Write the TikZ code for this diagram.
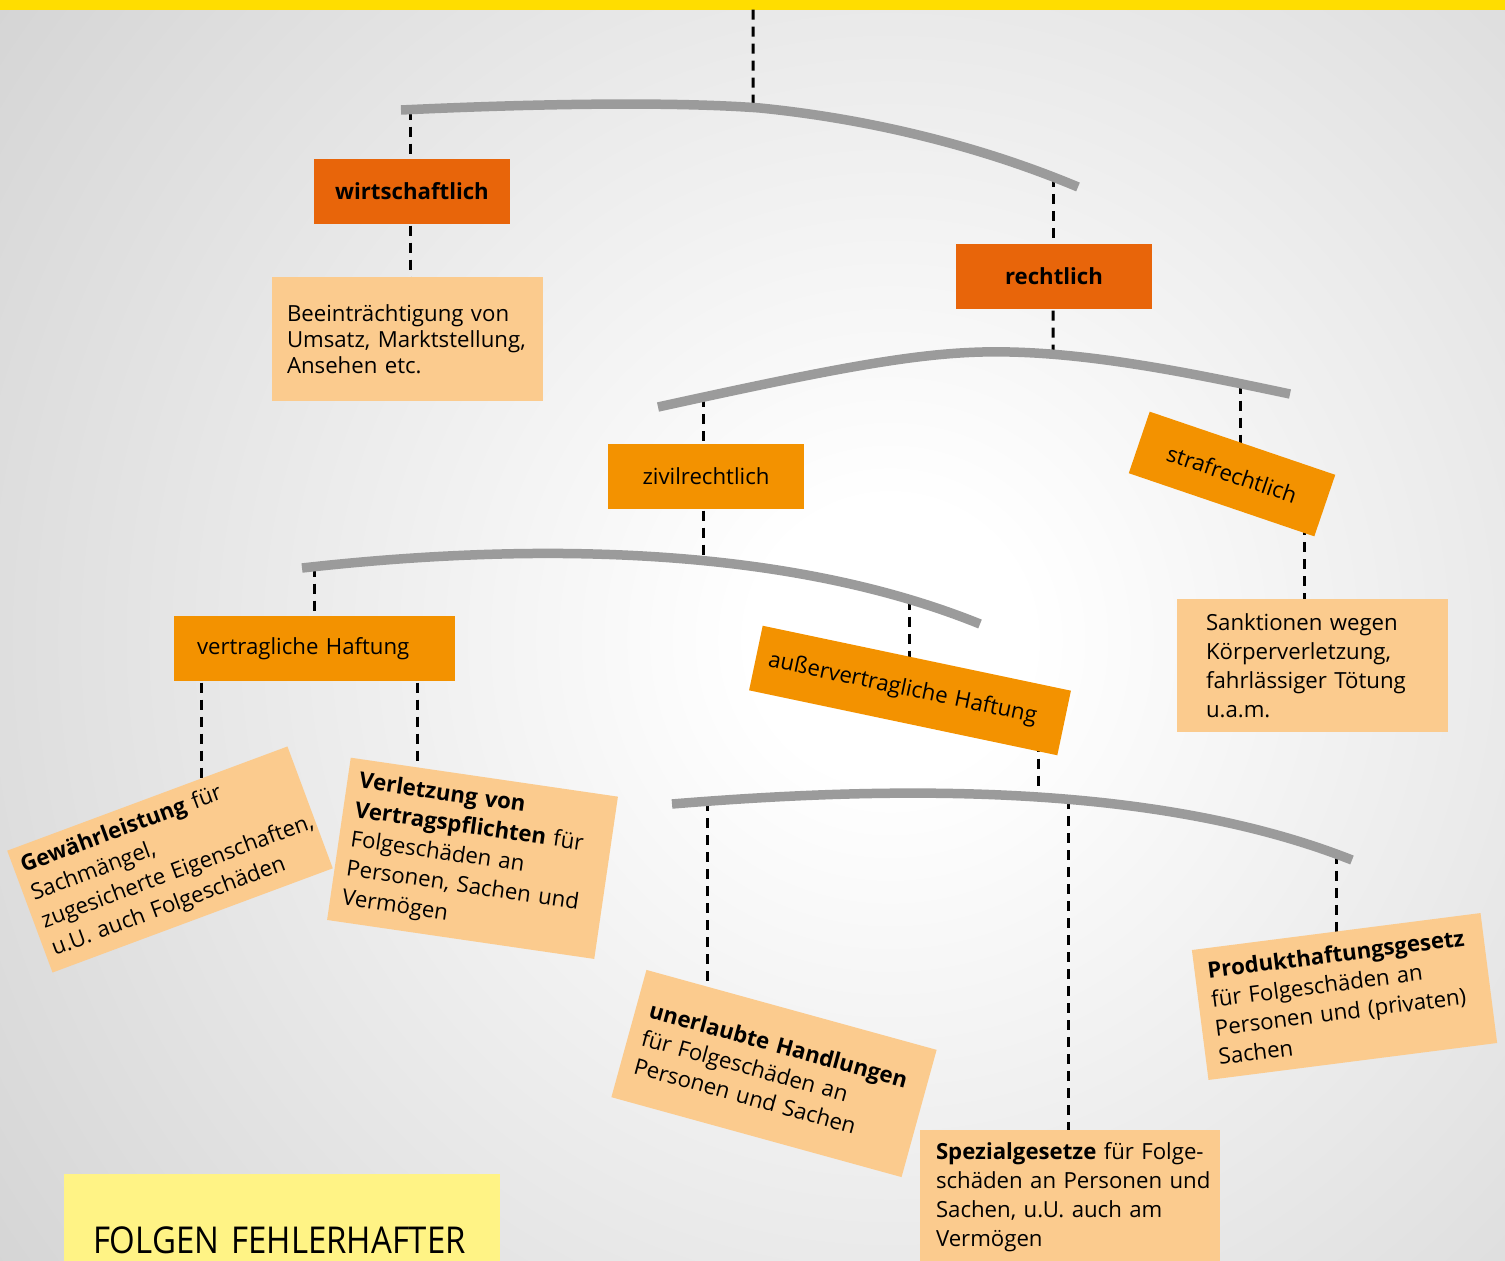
\documentclass[tikz,border=0pt]{standalone}
\usepackage{fontspec}
\setmainfont{Open Sans}
\newfontfamily\titlefont[FakeStretch=0.89]{Open Sans}
\usetikzlibrary{intersections}
\definecolor{topyellow}{HTML}{FFDD00}
\definecolor{darkor}{HTML}{E8650A}
\definecolor{midor}{HTML}{F39200}
\definecolor{lightor}{HTML}{FBCB8E}
\definecolor{titleyel}{HTML}{FFF385}
\definecolor{bargray}{HTML}{9B9B9B}
\definecolor{bggray}{HTML}{A0A0A0}
\pgfdeclarelayer{bglayer}
\pgfdeclarelayer{linelayer}
\pgfsetlayers{bglayer,linelayer,main}
\pgfdeclareradialshading{bgshade}{\pgfpoint{0bp}{0bp}}{color(0bp)=(white); color(3bp)=(white); color(50bp)=(bggray)}
\tikzset{
  hang/.style={draw=black, line width=3pt, dash pattern=on 10pt off 7pt},
  barline/.style={draw=bargray, line width=9.5pt},
  boxbase/.style={inner sep=0pt, outer sep=0pt},
  keybox/.style={boxbase, fill=darkor, minimum width=196pt, minimum height=65pt, font=\fontsize{22.2}{26}\selectfont\bfseries},
  midbox/.style={boxbase, fill=midor, minimum height=65pt, font=\fontsize{22.2}{26}\selectfont},
  notebox/.style={boxbase, fill=lightor, align=left, font=\fontsize{22.2}{26}\selectfont},
  widenote/.style={notebox, font=\fontsize{22.2}{29}\selectfont},
  widernote/.style={notebox, font=\fontsize{22.2}{29.5}\selectfont},
  titlebox/.style={boxbase, fill=titleyel, align=left, font=\titlefont\fontsize{37}{42}\selectfont}
}
\begin{document}
\hyphenpenalty=10000
\exhyphenpenalty=10000
\begin{tikzpicture}[x=1pt,y=-1pt]
\useasboundingbox (0,0) rectangle (1505,1261);
\begin{pgfonlayer}{bglayer}
  \fill[bggray] (0,0) rectangle (1505,1261);
  \shade[shading=bgshade] (890,640) circle (1150);
  \fill[topyellow] (0,0) rectangle (1505,9.5);
\end{pgfonlayer}

% bars
\draw[barline, name path=bar1] (401,110) .. controls (550,103) and (680,102) .. (760,108) .. controls (880,120) and (990,150) .. (1078,187);
\draw[barline, name path=bar2] (658,407) .. controls (850,365) and (930,350) .. (1010,352) .. controls (1100,354) and (1200,375) .. (1290,394);
\draw[barline, name path=bar3] (302,568) .. controls (480,548) and (760,535) .. (980,624);
\draw[barline, name path=bar4] (672,804) .. controls (880,787) and (1150,780) .. (1352,860);

% nodes
\node[keybox] (wirt) at (412,191.5) {wirtschaftlich};
\node[keybox] (recht) at (1054,276.5) {rechtlich};
\node[notebox, minimum width=271pt, minimum height=124pt, text width=241pt] (beein) at (407.5,339)
  {Beeinträchtigung~von\\Umsatz,~Marktstellung,\\Ansehen~etc.};
\node[midbox, minimum width=196pt] (zivil) at (706,476.5) {zivilrechtlich};
\node[midbox, minimum width=196pt, rotate=-18.8] (straf) at (1232,474) {strafrechtlich};
\node[widenote, minimum width=271pt, minimum height=133pt, text width=213pt] (sank) at (1312.5,665.5)
  {Sanktionen~wegen\\Körperverletzung,\\fahrlässiger~Tötung\\u.a.m.};
\node[midbox, minimum width=281pt, text width=235pt, align=left] (vert) at (314.5,648.5) {vertragliche~Haftung};
\node[midbox, minimum width=315pt, minimum height=66pt, text width=289pt, align=left, rotate=-11.9] (ausser) at (910,690.5) {außervertragliche~Haftung};
\node[widernote, minimum width=299pt, minimum height=130pt, text width=283pt, rotate=20.4] (gew) at (170,859.5)
  {\textbf{Gewährleistung}~für\\Sachmängel,\\zugesicherte~Eigenschaften,\\u.U.~auch~Folgeschäden};
\node[widernote, minimum width=270pt, minimum height=164pt, text width=246pt, rotate=-8.3] (verl) at (472.5,858.3)
  {\textbf{Verletzung~von}\\\textbf{Vertragspflichten}~für\\Folgeschäden~an\\Personen,~Sachen~und\\Vermögen};
\node[widenote, minimum width=301pt, minimum height=132pt, text width=273pt, rotate=-15.4] (uner) at (774,1073.5)
  {\textbf{unerlaubte~Handlungen}\\für~Folgeschäden~an\\Personen~und~Sachen};
\node[widenote, minimum width=291pt, minimum height=131pt, text width=265pt, rotate=7.3] (prod) at (1344.5,996.5)
  {\textbf{Produkthaftungsgesetz}\\für~Folgeschäden~an\\Personen~und~(privaten)\\Sachen};
\node[widenote, minimum width=300pt, minimum height=134pt, text width=268pt] (spez) at (1070,1197)
  {\textbf{Spezialgesetze}~für~Folge-\\schäden~an~Personen~und\\Sachen,~u.U.~auch~am\\Vermögen};
\node[titlebox, minimum width=436pt, minimum height=132pt, text width=378pt] (title) at (282,1240) {FOLGEN~FEHLERHAFTER};

% helper verticals and hanger points
\coordinate (topend) at (753,9.5);
\path[name path=v753] (753,0) -- (753,300);
\path[name path=v410] (410,0) -- (410,300);
\path[name path=v1053a] (1053,0) -- (1053,300);
\path[name path=v1053b] (1053,300) -- (1053,500);
\path[name path=v704] (704,300) -- (704,500);
\path[name path=v1240] (1240,300) -- (1240,500);
\path[name path=v703] (703,500) -- (703,700);
\path[name path=v315] (315,500) -- (315,700);
\path[name path=v910] (910,500) -- (910,700);
\path[name path=v1039] (1039,700) -- (1039,900);
\path[name path=v707] (707,700) -- (707,900);
\path[name path=v1068] (1068,700) -- (1068,900);
\path[name path=v1336] (1336,700) -- (1336,950);
\path[name intersections={of=bar1 and v753, by=h1m}];
\path[name intersections={of=bar1 and v410, by=h1l}];
\path[name intersections={of=bar1 and v1053a, by=h1r}];
\path[name intersections={of=bar2 and v1053b, by=h2m}];
\path[name intersections={of=bar2 and v704, by=h2l}];
\path[name intersections={of=bar2 and v1240, by=h2r}];
\path[name intersections={of=bar3 and v703, by=h3m}];
\path[name intersections={of=bar3 and v315, by=h3l}];
\path[name intersections={of=bar3 and v910, by=h3r}];
\path[name intersections={of=bar4 and v1039, by=h4m}];
\path[name intersections={of=bar4 and v707, by=h4a}];
\path[name intersections={of=bar4 and v1068, by=h4b}];
\path[name intersections={of=bar4 and v1336, by=h4c}];
\coordinate (x201) at (201,0);
\coordinate (x417) at (417,0);
\coordinate (x1304) at (1304,0);

\begin{pgfonlayer}{linelayer}
  \draw[hang] (topend) -- (h1m);
  \draw[hang] (h1l) -- (h1l |- wirt.center);
  \draw[hang] (h1l |- wirt.center) -- (h1l |- beein.center);
  \draw[hang] (h1r) -- (h1r |- recht.center);
  \draw[hang] (h1r |- recht.center) -- (h2m);
  \draw[hang] (h2l) -- (h2l |- zivil.center);
  \draw[hang] (h3m |- zivil.center) -- (h3m);
  \draw[hang] (h2r) -- (h2r |- straf.center);
  \draw[hang] (x1304 |- straf.center) -- (x1304 |- sank.center);
  \draw[hang] (h3l) -- (h3l |- vert.center);
  \draw[hang] (x201 |- vert.center) -- (x201 |- gew.center);
  \draw[hang] (x417 |- vert.center) -- (x417 |- verl.center);
  \draw[hang] (h3r) -- (h3r |- ausser.center);
  \draw[hang] (h4m |- ausser.center) -- (h4m);
  \draw[hang] (h4a) -- (h4a |- uner.center);
  \draw[hang] (h4b) -- (h4b |- spez.center);
  \draw[hang] (h4c) -- (h4c |- prod.center);
\end{pgfonlayer}
\end{tikzpicture}
\end{document}
